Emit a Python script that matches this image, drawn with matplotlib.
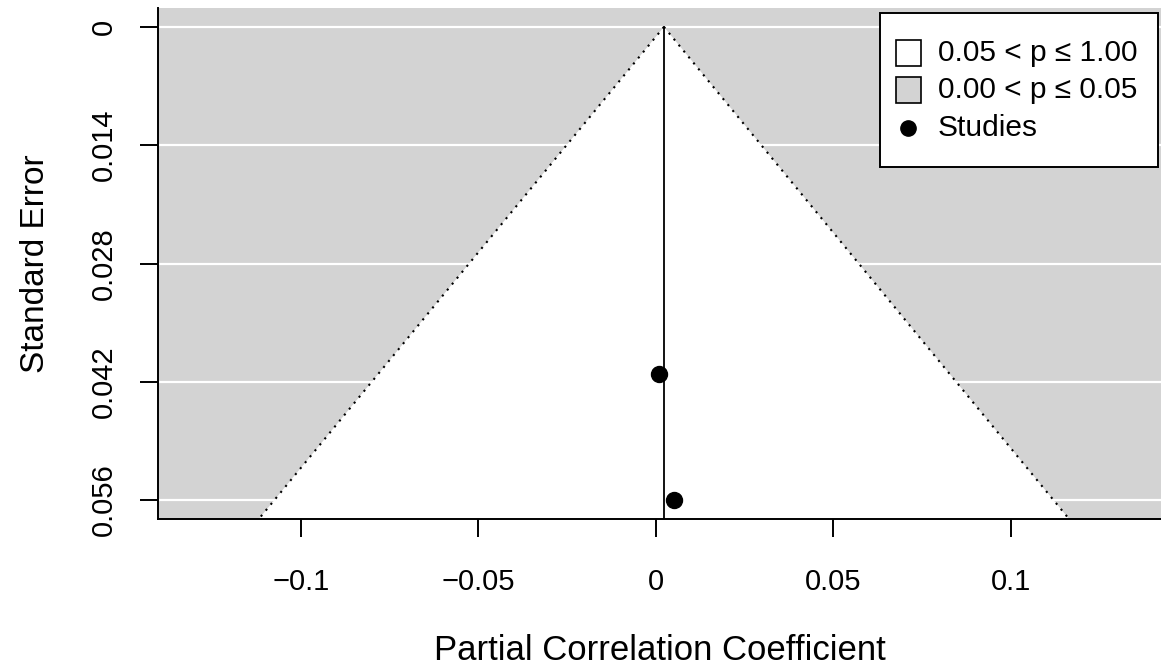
import numpy as np
import matplotlib
matplotlib.use("Agg")
import matplotlib.pyplot as plt
from matplotlib.patches import Rectangle, Polygon
from matplotlib.lines import Line2D

plt.rcParams['font.family'] = ['Liberation Sans', 'DejaVu Sans']

# Pooled estimate and individual studies
pooled_estimate = 0.00225
study_effect = [0.0009, 0.0051]
study_se = [0.0411, 0.056]

# Axis ticks and labels
x_ticks = [-0.1, -0.05, 0.0, 0.05, 0.1]
x_tick_labels = ["\u22120.1", "\u22120.05", "0", "0.05", "0.1"]
y_ticks = [0.0, 0.014, 0.028, 0.042, 0.056]
y_tick_labels = ["0", "0.014", "0.028", "0.042", "0.056"]

legend_labels = ["0.05 < p \u2264 1.00", "0.00 < p \u2264 0.05", "Studies"]
z_crit = 1.96

W, H = 1161, 668
fig = plt.figure(figsize=(W / 100, H / 100), dpi=100)
ax = fig.add_axes([158 / W, (H - 519) / H, (W - 158) / W, (519 - 8) / H])

se_max = max(study_se)
pad = 0.04 * se_max
y_lo, y_hi = -pad, se_max + pad
ax.set_ylim(y_hi, y_lo)
ax.set_xlim(-0.1403, 0.1423)

grey = "#D3D3D3"
ax.set_facecolor(grey)

# horizontal reference lines
for yt in y_ticks:
    ax.axhline(yt, color="white", lw=1.6, zorder=1)

# non-significance region (white funnel)
se_line = np.array([0.0, y_hi])
left = pooled_estimate - z_crit * se_line
right = pooled_estimate + z_crit * se_line
funnel = Polygon([[left[1], y_hi], [pooled_estimate, 0.0], [right[1], y_hi]],
                 closed=True, facecolor="white", edgecolor="none", zorder=2)
ax.add_patch(funnel)
ax.plot(left, se_line, color="black", lw=1.5, ls=(0, (1, 2.7)), zorder=3)
ax.plot(right, se_line, color="black", lw=1.5, ls=(0, (1, 2.7)), zorder=3)
ax.plot([pooled_estimate, pooled_estimate], [0.0, y_hi], color="black", lw=1.3, zorder=3)

ax.plot(study_effect, study_se, "o", color="black", ms=11.5, zorder=4, clip_on=False)

for side in ["top", "right"]:
    ax.spines[side].set_visible(False)
for side in ["left", "bottom"]:
    ax.spines[side].set_linewidth(1.4)
    ax.spines[side].set_color("black")

ax.set_xticks(x_ticks)
ax.set_xticklabels(x_tick_labels)
ax.set_yticks(y_ticks)
ax.set_yticklabels(y_tick_labels, rotation=90, va="center")
ax.tick_params(axis="both", direction="out", length=13, width=1.4, labelsize=21,
               colors="black")
ax.tick_params(axis="x", pad=22)
ax.tick_params(axis="y", pad=16)

ax.set_xlabel("Partial Correlation Coefficient", fontsize=25, labelpad=28)
ax.set_ylabel("Standard Error", fontsize=24, labelpad=28)

# legend box
def fx(px):
    return px / W

def fy(py):
    return 1 - py / H

fig.add_artist(Rectangle((fx(880), fy(167)), fx(1158) - fx(880), fy(13) - fy(167),
                         transform=fig.transFigure, facecolor="white",
                         edgecolor="black", lw=1.4, zorder=10))
rows = [53, 90, 128]
sq = 25
for i, (lab, fc) in enumerate(zip(legend_labels[:2], ["white", grey])):
    fig.add_artist(Rectangle((fx(908 - sq / 2), fy(rows[i] + sq / 2)), sq / W, sq / H,
                             transform=fig.transFigure, facecolor=fc,
                             edgecolor="black", lw=1.2, zorder=11))
fig.add_artist(Line2D([fx(908)], [fy(rows[2])], marker="o", color="black", ms=11,
                      transform=fig.transFigure, zorder=11))
for lab, r in zip(legend_labels, rows):
    fig.text(fx(938), fy(r), lab, fontsize=21.5, va="center", ha="left", zorder=12)

fig.savefig("out.png", dpi=100)
